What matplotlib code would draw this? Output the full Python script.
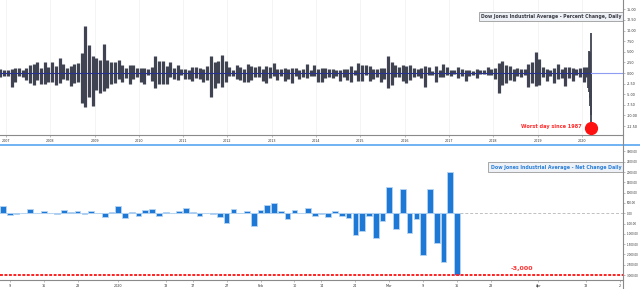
import matplotlib
matplotlib.use("Agg")
import matplotlib.pyplot as plt
from matplotlib.lines import Line2D
import numpy as np

# ---------------- Top panel data: monthly extremes of daily % change ----------------
start_year, start_month = 2006, 11
monthly_up = [
    1.0, 0.8,                                                        # 2006 Nov-Dec
    0.8, 0.9, 1.3, 1.1, 0.8, 1.2, 2.0, 2.1, 2.5, 1.1, 2.6, 1.5,      # 2007
    2.5, 1.6, 3.6, 2.1, 1.2, 1.6, 2.1, 2.4, 4.7, 11.1, 6.5, 4.1,     # 2008
    3.5, 3.0, 6.8, 3.1, 2.7, 2.6, 3.1, 1.9, 1.2, 2.0, 2.0, 1.2,      # 2009
    1.1, 1.1, 1.0, 1.4, 3.9, 2.9, 2.9, 1.7, 2.5, 1.2, 1.8, 0.9,      # 2010
    0.9, 0.8, 1.5, 1.5, 1.2, 1.0, 1.6, 4.0, 2.5, 2.9, 4.2, 2.9,      # 2011
    1.5, 0.8, 1.8, 1.5, 1.0, 2.2, 1.7, 1.5, 1.6, 1.0, 1.6, 1.4,      # 2012
    2.4, 1.0, 0.9, 1.2, 1.0, 1.3, 1.2, 0.8, 1.0, 2.2, 0.8, 1.8,      # 2013
    1.0, 1.2, 1.2, 1.0, 1.0, 0.7, 0.8, 1.0, 0.9, 1.6, 0.8, 2.4,      # 2014
    1.8, 1.8, 1.6, 1.0, 1.0, 1.2, 1.3, 3.9, 2.5, 1.8, 1.4, 1.8,      # 2015
    1.6, 2.0, 1.3, 0.9, 1.3, 1.6, 1.4, 0.5, 1.6, 0.6, 2.1, 1.5,      # 2016
    0.8, 0.6, 1.5, 1.0, 0.6, 0.7, 0.4, 1.0, 0.8, 0.8, 1.4, 1.0,      # 2017
    1.3, 2.3, 2.8, 1.8, 1.6, 1.0, 1.3, 1.0, 1.0, 2.2, 2.5, 5.0,      # 2018
    3.3, 1.4, 1.0, 0.6, 1.2, 2.1, 0.9, 1.4, 1.4, 1.2, 0.9, 1.2,      # 2019
    1.4, 1.5,                                                        # 2020 Jan, Feb(1-21)
]
monthly_down = [
    -0.9, -0.7,
    -0.7, -3.3, -2.0, -0.8, -1.0, -1.6, -2.3, -2.8, -1.7, -2.6, -2.6, -2.1,
    -2.2, -2.9, -2.4, -1.5, -1.7, -3.1, -2.3, -2.0, -7.0, -7.9, -5.6, -7.7,
    -4.1, -4.6, -4.2, -3.6, -2.5, -2.4, -1.5, -2.0, -1.1, -2.5, -1.5, -1.0,
    -2.0, -2.6, -0.5, -1.9, -3.6, -2.6, -2.5, -2.5, -1.0, -1.5, -1.6, -0.5,
    -1.4, -1.4, -1.9, -1.1, -1.4, -2.2, -1.7, -5.6, -3.5, -2.4, -3.2, -2.0,
    -0.6, -0.8, -1.5, -1.7, -2.2, -2.2, -1.6, -0.9, -1.0, -1.8, -2.4, -1.2,
    -0.6, -1.6, -0.7, -1.8, -1.5, -2.3, -0.6, -1.5, -1.0, -1.1, -0.6, -0.6,
    -2.0, -2.1, -1.2, -1.0, -1.1, -0.7, -1.9, -0.9, -1.6, -2.0, -0.5, -1.8,
    -1.9, -0.5, -1.9, -1.5, -1.0, -2.0, -1.5, -3.6, -2.8, -1.0, -1.0, -1.8,
    -2.4, -1.7, -1.0, -0.7, -1.1, -3.4, -0.4, -0.5, -2.1, -0.9, -0.9, -0.5,
    -0.6, -0.3, -1.1, -0.6, -1.8, -0.8, -0.4, -1.2, -0.3, -0.3, -0.4, -0.4,
    -1.4, -4.6, -2.9, -2.3, -1.6, -1.8, -0.8, -0.9, -0.5, -3.2, -2.3, -3.1,
    -2.8, -0.9, -1.8, -0.6, -2.4, -1.5, -1.2, -3.05, -1.1, -1.9, -0.5, -1.0,
    -2.1, -0.9,
]
# last weeks, daily % change (day of year 2020)
crash_doy = [55, 56, 57, 58, 59, 62, 63, 64, 65, 66, 69, 70, 71, 72, 73, 76]
crash_pct = [-3.56, -3.15, -0.46, -4.42, -1.39, 5.09, -2.94, 4.53, -3.58, -0.98,
             -7.79, 4.89, -5.86, -9.99, 9.36, -12.93]
year_ticks = list(range(2007, 2021))
pct_ticks = [15, 12.5, 10, 7.5, 5, 2.5, 0, -2.5, -5, -7.5, -10, -12.5]

# ---------------- Bottom panel data: daily net change (points) ----------------
net_dates = ["Dec 6", "Dec 9", "Dec 10", "Dec 11", "Dec 12", "Dec 13", "Dec 16", "Dec 17",
             "Dec 18", "Dec 19", "Dec 20", "Dec 23", "Dec 24", "Dec 26", "Dec 27", "Dec 30",
             "Dec 31", "Jan 2", "Jan 3", "Jan 6", "Jan 7", "Jan 8", "Jan 9", "Jan 10",
             "Jan 13", "Jan 14", "Jan 15", "Jan 16", "Jan 17", "Jan 21", "Jan 22", "Jan 23",
             "Jan 24", "Jan 27", "Jan 28", "Jan 29", "Jan 30", "Jan 31", "Feb 3", "Feb 4",
             "Feb 5", "Feb 6", "Feb 7", "Feb 10", "Feb 11", "Feb 12", "Feb 13", "Feb 14",
             "Feb 18", "Feb 19", "Feb 20", "Feb 21", "Feb 24", "Feb 25", "Feb 26", "Feb 27",
             "Feb 28", "Mar 2", "Mar 3", "Mar 4", "Mar 5", "Mar 6", "Mar 9", "Mar 10",
             "Mar 11", "Mar 12", "Mar 13", "Mar 16"]
net_change = [337, -105, -28, 30, 221, 3, 101, 31, -28, 138, 78, 96, -36, 106, 24, -183,
              76, 330, -234, 69, -120, 161, 212, -133, 83, 33, 91, 267, 50, -152, -10, -26,
              -170, -454, 187, 12, 125, -603, 144, 408, 483, 89, -277, 174, -1, 275, -128,
              -25, -166, 116, -128, -228, -1032, -879, -124, -1191, -357, 1294, -786, 1173,
              -970, -257, -2014, 1167, -1465, -2353, 1985, -2997]
net_tick_idx = [0, 5, 10, 16, 23, 27, 32, 37, 42, 46, 51, 56, 61, 66, 71, 78, 85, 90]
net_tick_lbl = ["9", "16", "23", "2020", "13", "17", "27", "Feb", "10", "14", "24", "Mar",
                "9", "16", "23", "Apr", "13", "2"]
net_ticks_y = [3000, 2500, 2000, 1500, 1000, 500, 0, -500, -1000, -1500, -2000, -2500, -3000]

# ---------------- Figure ----------------
W, H = 640, 289
fig = plt.figure(figsize=(6.4, 2.89), dpi=100)
fig.patch.set_facecolor("white")
plot_right = 623 / W
ax1 = fig.add_axes([0, 1 - 135 / H, plot_right, 135 / H])
ax2 = fig.add_axes([0, 1 - 280 / H, plot_right, 135 / H])

tick_col = "#333333"
line_col = "#404452"

# --- top panel
n = len(monthly_up)
mx = [start_year + (start_month - 1 + k + 0.5) / 12.0 for k in range(n)]
ax1.vlines(mx, monthly_down, monthly_up, color=line_col, linewidth=2.3)
cx = [2020 + d / 366.0 for d in crash_doy]
ax1.vlines(cx, [min(0, v) for v in crash_pct], [max(0, v) for v in crash_pct],
           color=line_col, linewidth=1.3)
last_x = cx[-1]
ax1.plot([2006.8, last_x], [0, 0], color="#27318f", linewidth=0.8, zorder=3)
ax1.plot([last_x, 2021.2], [0, 0], color="#8e9cf2", linewidth=0.8, zorder=3)
ax1.plot([last_x], [crash_pct[-1]], "o", color="#ff1010", markersize=8.5, zorder=4)
ax1.text(2020.0, -12.6, "Worst day since 1987", color="#ff2a2a", fontsize=3.6,
         fontweight="bold", ha="right", va="center")
ax1.text(0.997, 0.881, "Dow Jones Industrial Average - Percent Change, Daily",
         transform=ax1.transAxes, ha="right", va="center", fontsize=3.3,
         fontweight="bold", color="#3a3a44",
         bbox=dict(boxstyle="square,pad=0.45", facecolor="#eef1f6",
                   edgecolor="#9a9a9a", linewidth=0.6))
ax1.set_xlim(2006.865, 2020.93)
ax1.set_ylim(-14.6, 17.2)
ax1.set_xticks(year_ticks)
ax1.set_xticklabels([str(y) for y in year_ticks])
ax1.set_yticks(pct_ticks)
ax1.set_yticklabels(["%.2f" % v for v in pct_ticks])
for x in year_ticks:
    ax1.axvline(x, color="#f3f3f3", linewidth=0.6, zorder=0)

# --- bottom panel
idx = list(range(-1, len(net_change) - 1))
ax2.bar(idx, net_change, width=0.84, color="#1e78d6", edgecolor="#b6d5f3",
        linewidth=0.6, zorder=3)
ax2.plot([-1.5, idx[-1]], [0, 0], color="#c6dcf2", linewidth=0.8, zorder=2)
ax2.plot([idx[-1] + 0.5, 91], [0, 0], color="#c0c0c0", linewidth=0.7,
         linestyle=(0, (3, 2)), zorder=2)
ax2.axhline(-3000, color="#ff2020", linewidth=1.4, linestyle=(0, (1.5, 0.8)), zorder=4)
ax2.text(75.6, -2700, "-3,000", color="#ff3030", fontsize=4.6, fontweight="bold",
         ha="center", va="center")
ax2.text(0.997, 0.837, "Dow Jones Industrial Average - Net Change Daily",
         transform=ax2.transAxes, ha="right", va="center", fontsize=3.4,
         fontweight="bold", color="#2a7fd8",
         bbox=dict(boxstyle="square,pad=0.45", facecolor="#eef1f6",
                   edgecolor="#9a9a9a", linewidth=0.6))
ax2.set_xlim(-1.45, 90.5)
ax2.set_ylim(-3240, 3315)
ax2.set_xticks(net_tick_idx)
ax2.set_xticklabels(net_tick_lbl)
ax2.set_yticks(net_ticks_y)
ax2.set_yticklabels(["%.2f" % v for v in net_ticks_y])

for ax, ysize in ((ax1, 2.4), (ax2, 2.0)):
    ax.set_facecolor("white")
    ax.yaxis.tick_right()
    for s in ("top", "left", "right"):
        ax.spines[s].set_visible(False)
    ax.spines["bottom"].set_color("#8a8a8a")
    ax.spines["bottom"].set_linewidth(0.8)
    ax.tick_params(axis="y", labelsize=ysize, length=1.5, width=0.4, pad=1.0,
                   colors="#8a8a8a", labelcolor=tick_col)
    ax.tick_params(axis="x", labelsize=2.4, length=1.5, width=0.4, pad=1.5,
                   colors="#8a8a8a", labelcolor=tick_col)

# panel separator and right price-scale border
fig.add_artist(Line2D([0, 1], [1 - 145 / H, 1 - 145 / H], color="#56a6f2",
                      linewidth=1.2, transform=fig.transFigure))
fig.add_artist(Line2D([plot_right, plot_right], [0, 1], color="#8a8a8a",
                      linewidth=0.8, transform=fig.transFigure))

fig.savefig("out.png", dpi=100, facecolor="white")
